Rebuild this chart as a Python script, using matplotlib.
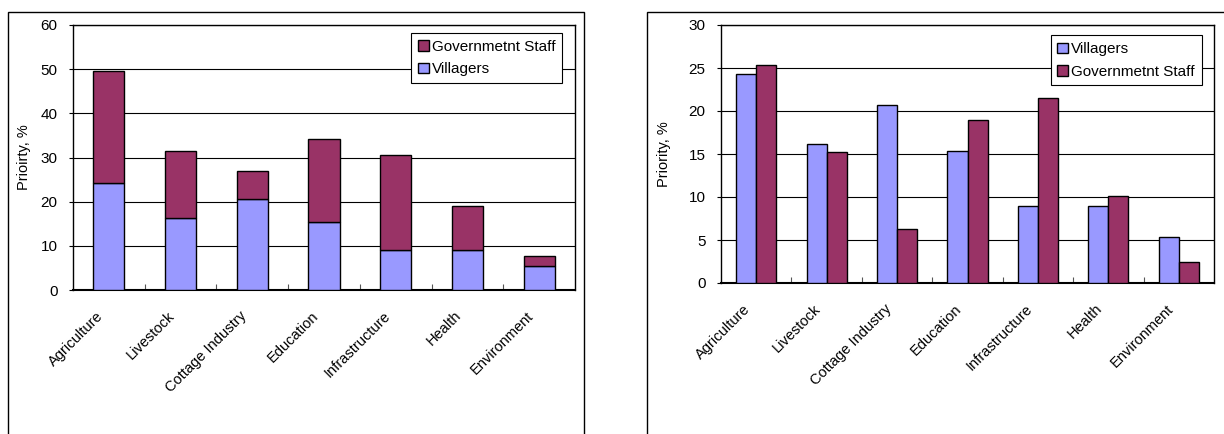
import matplotlib.pyplot as plt
from matplotlib.patches import Rectangle
from matplotlib.transforms import offset_copy
import numpy as np

plt.rcParams["font.family"] = ["Liberation Sans", "DejaVu Sans"]
plt.rcParams["font.size"] = 10.5

categories = ["Agriculture", "Livestock", "Cottage Industry", "Education",
              "Infrastructure", "Health", "Environment"]
villagers = [24.3, 16.2, 20.7, 15.3, 9.0, 9.0, 5.4]
gov_staff = [25.3, 15.2, 6.3, 19.0, 21.5, 10.1, 2.4]
left_yticks = [0, 10, 20, 30, 40, 50, 60]
right_yticks = [0, 5, 10, 15, 20, 25, 30]

C_VIL = "#9999FF"
C_GOV = "#993366"

W, H = 1224, 434
fig = plt.figure(figsize=(W / 100, H / 100), dpi=100)


def px_axes(x0, y0, x1, y1):
    # pixel box (top-left origin) -> figure fraction axes
    return fig.add_axes([x0 / W, 1 - y1 / H, (x1 - x0) / W, (y1 - y0) / H])


def style_axes(ax, yticks, ylabel, labelpad):
    n = len(categories)
    ax.set_xlim(-0.5, n - 0.5)
    ax.set_ylim(yticks[0], yticks[-1])
    ax.set_yticks(yticks)
    ax.yaxis.grid(True, color="black", linewidth=0.8)
    ax.set_axisbelow(True)
    for s in ax.spines.values():
        s.set_linewidth(1.0)
        s.set_color("black")
    ax.spines["bottom"].set_linewidth(1.5)
    ax.tick_params(axis="y", length=3, width=0.8, pad=8, labelsize=11)
    ax.set_xticks(np.arange(n))
    ax.set_xticklabels(categories, rotation=45, ha="right",
                       rotation_mode="anchor", fontsize=10.5)
    ax.tick_params(axis="x", length=0, pad=12)
    for lab in ax.get_xticklabels():
        lab.set_transform(offset_copy(lab.get_transform(), fig=fig,
                                      x=-13, y=-2, units="dots"))
    ax.set_xticks(np.arange(n - 1) + 0.5, minor=True)
    ax.tick_params(axis="x", which="minor", direction="in", length=4,
                   width=0.8, color="#555555")
    ax.set_ylabel(ylabel, fontsize=10.5, labelpad=labelpad)


# outer chart frames
fig.add_artist(Rectangle((8 / W, -0.05), (584 - 8) / W, 1.05 - 12 / H,
                         transform=fig.transFigure, fill=False,
                         edgecolor="black", linewidth=1.0))
fig.add_artist(Rectangle((647 / W, -0.05), 0.5, 1.05 - 12 / H,
                         transform=fig.transFigure, fill=False,
                         edgecolor="black", linewidth=1.0))

x = np.arange(len(categories))

# left: stacked
ax1 = px_axes(73, 25, 575, 290)
bw = 0.435
ax1.bar(x, villagers, bw, color=C_VIL, edgecolor="black", linewidth=1.0,
        label="Villagers", zorder=3)
ax1.bar(x, gov_staff, bw, bottom=villagers, color=C_GOV, edgecolor="black",
        linewidth=1.0, label="Governmetnt Staff", zorder=3)
style_axes(ax1, left_yticks, "Prioirty, %", 7)
h, l = ax1.get_legend_handles_labels()
leg1 = ax1.legend(h[::-1], l[::-1], loc="upper right",
                  bbox_to_anchor=(0.975, 0.97), fancybox=False,
                  edgecolor="black", framealpha=1, fontsize=11,
                  handlelength=0.7, handleheight=0.7, handletextpad=0.2,
                  labelspacing=0.55, borderpad=0.45, borderaxespad=0)
leg1.get_frame().set_linewidth(0.8)

# right: grouped
ax2 = px_axes(721, 25, 1214, 283)
gw = 0.285
ax2.bar(x - gw / 2, villagers, gw, color=C_VIL, edgecolor="black",
        linewidth=1.0, label="Villagers", zorder=3)
ax2.bar(x + gw / 2, gov_staff, gw, color=C_GOV, edgecolor="black",
        linewidth=1.0, label="Governmetnt Staff", zorder=3)
style_axes(ax2, right_yticks, "Priority, %", 13)
leg2 = ax2.legend(loc="upper right", bbox_to_anchor=(0.975, 0.96),
                  fancybox=False, edgecolor="black", framealpha=1,
                  fontsize=11, handlelength=0.7, handleheight=0.7,
                  handletextpad=0.2, labelspacing=0.55, borderpad=0.45,
                  borderaxespad=0)
leg2.get_frame().set_linewidth(0.8)

fig.savefig("out.png", dpi=100)
